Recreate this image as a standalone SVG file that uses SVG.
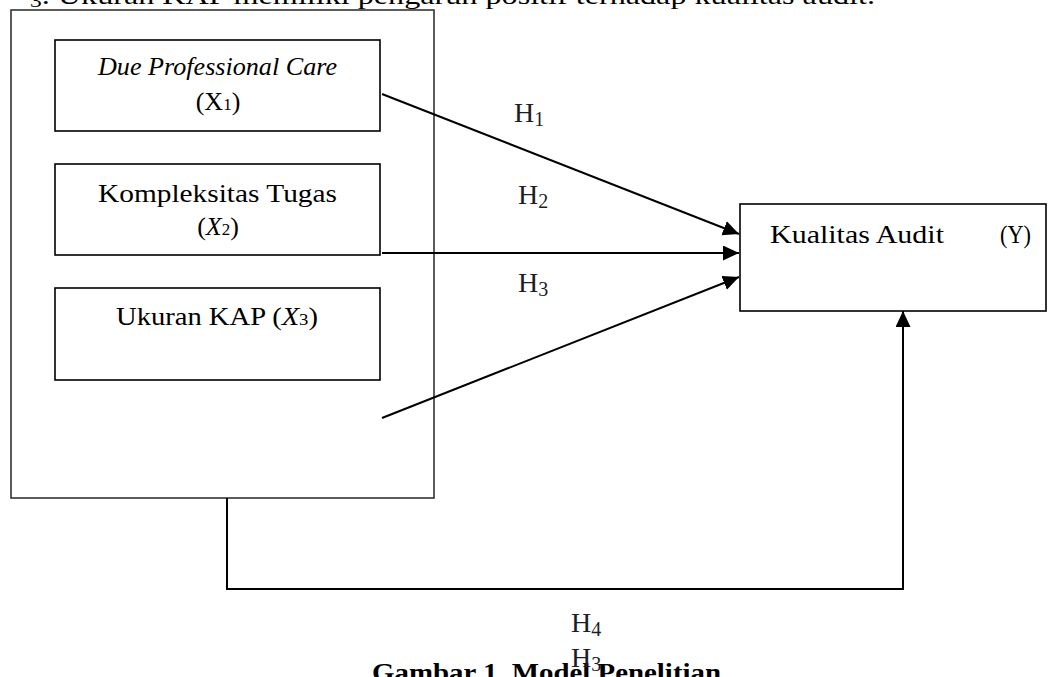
<svg xmlns="http://www.w3.org/2000/svg" width="1056" height="677" viewBox="0 0 1056 677">
<style>
.box{fill:#fff;stroke:#000;stroke-width:1.6}
.outer{fill:none;stroke:#333;stroke-width:1.6}
.t{font-family:"Liberation Serif","Times New Roman",serif;font-size:26px;fill:#000}
.h{font-family:"Liberation Serif","Times New Roman",serif;font-size:28px;fill:#1c1c28}
.hs{font-size:20px}
.ln{fill:none;stroke:#000;stroke-width:2}
</style>
<defs>
<marker id="ah" markerUnits="userSpaceOnUse" markerWidth="18" markerHeight="16" refX="16" refY="7.5" orient="auto">
<path d="M0,0 L16,7.5 L0,15 z" fill="#000"/>
</marker>
</defs>
<rect width="1056" height="677" fill="#fff"/>
<text class="t" x="30" y="4" font-size="27" textLength="845" lengthAdjust="spacingAndGlyphs"><tspan font-size="19" dy="3">3</tspan><tspan dy="-3">. Ukuran KAP memiliki pengaruh positif terhadap kualitas audit.</tspan></text>

<g id="outer"><rect class="outer" x="11" y="10" width="423" height="488"/></g>

<g id="x1">
<rect class="box" x="55" y="40" width="325" height="91"/>
<text class="t" x="98" y="75" font-style="italic" textLength="239" lengthAdjust="spacingAndGlyphs">Due Professional Care</text>
<text class="t" x="218" y="110" text-anchor="middle">(X<tspan font-size="17">1</tspan>)</text>
</g>
<g id="x2">
<rect class="box" x="55" y="164" width="325" height="91"/>
<text class="t" x="98" y="202" textLength="239" lengthAdjust="spacingAndGlyphs">Kompleksitas Tugas</text>
<text class="t" x="218" y="235" text-anchor="middle">(<tspan font-style="italic">X</tspan><tspan font-size="17">2</tspan>)</text>
</g>
<g id="x3">
<rect class="box" x="55" y="288" width="325" height="92"/>
<text class="t" x="116" y="325" textLength="202" lengthAdjust="spacingAndGlyphs">Ukuran KAP (<tspan font-style="italic">X</tspan><tspan font-size="17">3</tspan>)</text>
</g>
<g id="y">
<rect class="box" x="740" y="204" width="306" height="107"/>
<text class="t" x="770" y="243" textLength="174" lengthAdjust="spacingAndGlyphs">Kualitas Audit</text>
<text class="t" x="1000" y="243" textLength="31" lengthAdjust="spacingAndGlyphs">(Y)</text>
</g>

<g id="connectors">
<line class="ln" x1="382" y1="94" x2="739" y2="234" marker-end="url(#ah)"/>
<line class="ln" x1="382" y1="253" x2="739" y2="253" marker-end="url(#ah)"/>
<line class="ln" x1="382" y1="418" x2="739" y2="277" marker-end="url(#ah)"/>
<polyline class="ln" points="227,498 227,589 903,589 903,311" marker-end="url(#ah)"/>
</g>

<g id="labels">
<text class="h" x="514" y="122">H<tspan class="hs" dy="4">1</tspan></text>
<text class="h" x="518" y="204">H<tspan class="hs" dy="4">2</tspan></text>
<text class="h" x="518" y="292">H<tspan class="hs" dy="4">3</tspan></text>
<text class="h" x="571" y="632">H<tspan class="hs" dy="4">4</tspan></text>
</g>

<text class="t" x="372" y="681" font-weight="bold" textLength="349" lengthAdjust="spacingAndGlyphs">Gambar 1. Model Penelitian</text>
<text class="h" x="571" y="667">H<tspan class="hs" dy="4">3</tspan></text>
</svg>
